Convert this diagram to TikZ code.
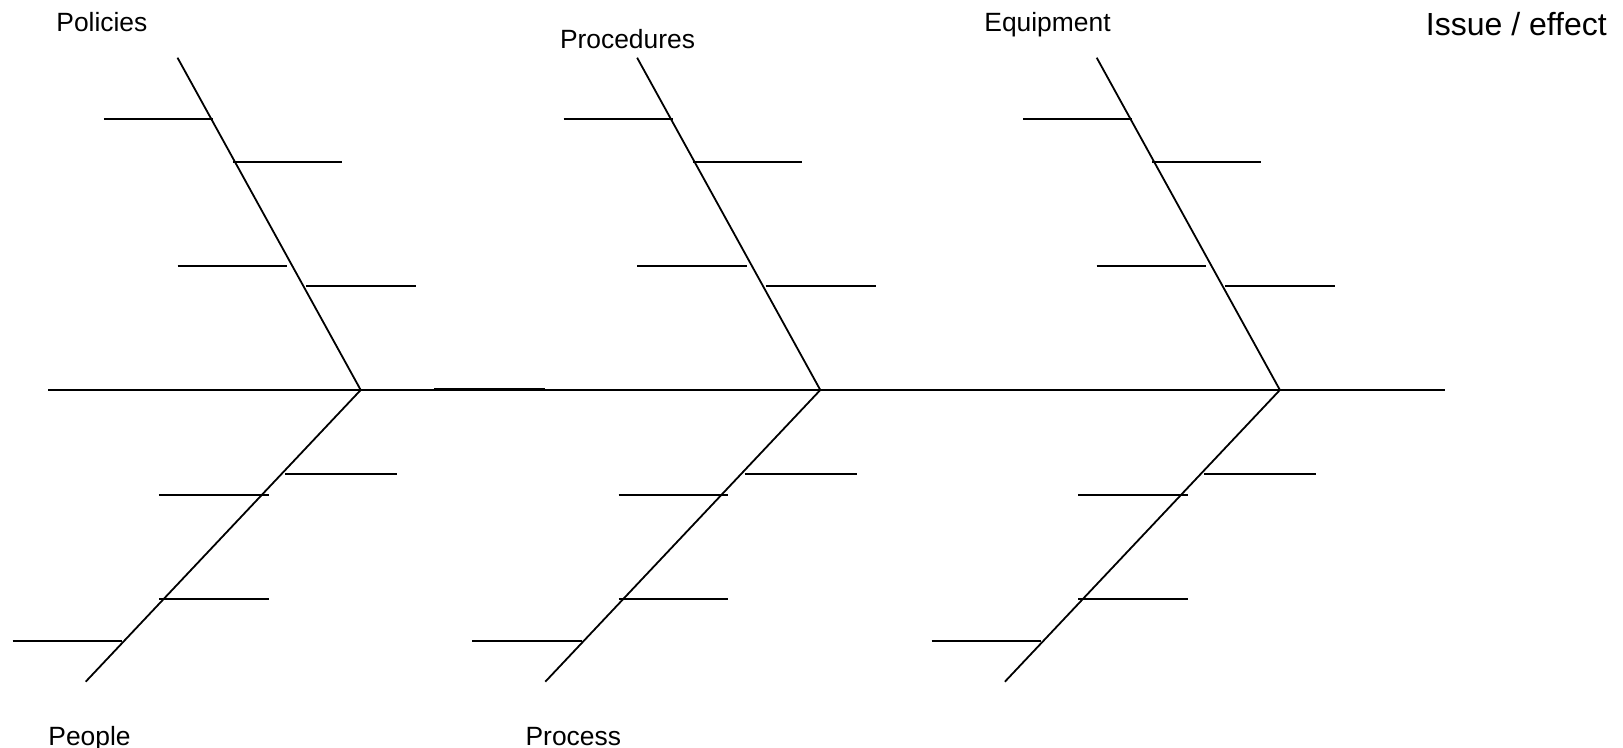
\documentclass[tikz,border=0pt]{standalone}
\usepackage{fontspec}
\setmainfont{Liberation Sans}
\begin{document}
\begin{tikzpicture}[x=0.5pt,y=-0.5pt,
  bone/.style={line width=0.9pt, line cap=butt},
  cat/.style={anchor=base west, inner sep=0pt, font=\fontsize{13.2}{16}\selectfont},
  effect/.style={anchor=base west, inner sep=0pt, font=\fontsize{16}{19}\selectfont}]
\useasboundingbox (0,0) rectangle (1623,748);

% main spine
\coordinate (tail) at (48.2,390);
\coordinate (head) at (1445,390);
\draw[bone] (tail) -- (head);

% three pairs of category bones with their ribs
\foreach \k in {0,1,2} {
  \pgfmathsetmacro{\d}{459.6*\k}
  \coordinate (J\k) at ({360.7+\d},390);
  \coordinate (T\k) at ({177.5+\d},57.7);
  \coordinate (B\k) at ({85.7+\d},681.7);
  \draw[bone] (T\k) -- (J\k) -- (B\k);
  \foreach \n/\y/\a/\b in {u1/119.3/103.9/213.2, u2/161.7/232.9/342.1,
                           u3/265.7/177.5/287.1, u4/286.3/306.1/416.1,
                           l1/474/285/397.1, l2/495/158.9/268.6,
                           l3/598.7/158.9/268.6, l4/640.7/12.5/122.1} {
    \coordinate (\n a\k) at ({\a+\d},\y);
    \coordinate (\n b\k) at ({\b+\d},\y);
    \draw[bone] (\n a\k) -- (\n b\k);
  }
}

% short stroke laid over the spine
\coordinate (m1) at (434,389);
\coordinate (m2) at (544.6,389);
\draw[bone] (m1) -- (m2);

% category labels
\node[cat] (policies) at (56,31.7) {Policies};
\node[cat] (procedures) at (559.6,48.3) {Procedures};
\node[cat] (equipment) at (984,31.7) {Equipment};
\node[cat] (people) at (48,745.3) {People};
\node[cat] (process) at (525.2,745.3) {Process};
\node[effect] (issue) at (1425.5,35.7) {Issue / effect};
\end{tikzpicture}
\end{document}
